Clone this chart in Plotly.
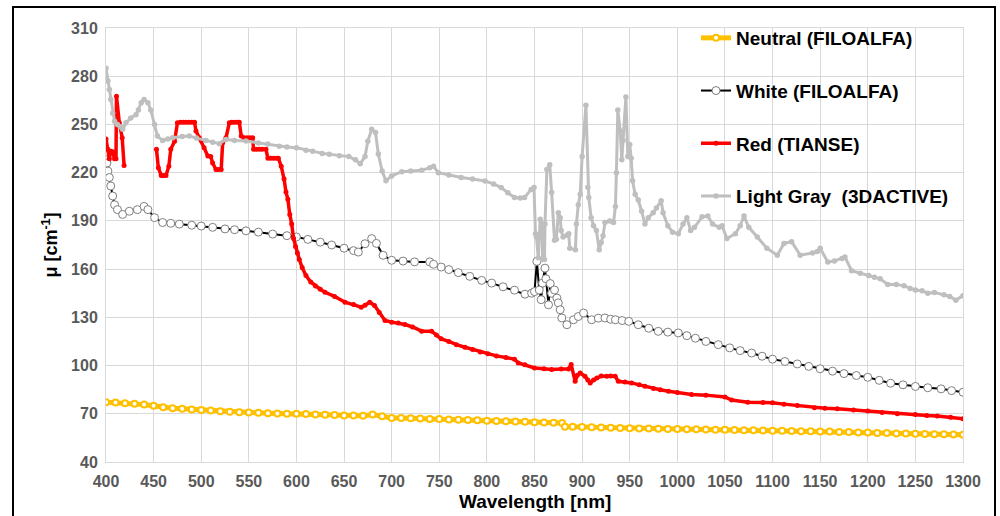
import plotly.graph_objects as go

# ---------------- data ----------------
wl_neutral = [400, 410, 420, 430, 440, 450, 460, 470, 480, 490, 500, 510, 520, 530, 540, 550,
              560, 570, 580, 590, 600, 610, 620, 630, 640, 650, 660, 670, 680, 690, 700, 710,
              720, 730, 740, 750, 760, 770, 780, 790, 800, 810, 820, 830, 840, 850, 860, 870,
              879, 882, 890, 900, 910, 920, 930, 940, 950, 960, 970, 980, 990, 1000, 1010, 1020,
              1030, 1040, 1050, 1060, 1070, 1080, 1090, 1100, 1110, 1120, 1130, 1140, 1150, 1160,
              1170, 1180, 1190, 1200, 1210, 1220, 1230, 1240, 1250, 1260, 1270, 1280, 1290, 1300]
mu_neutral = [77.2, 77.0, 76.6, 76.2, 75.7, 75.0, 74.0, 73.5, 73.1, 72.7, 72.3, 72.0, 71.6, 71.3, 71.0, 70.8,
              70.6, 70.4, 70.2, 70.0, 70.0, 69.8, 69.6, 69.4, 69.2, 69.0, 68.9, 68.7, 69.5, 68.5, 67.4, 67.3,
              67.2, 67.0, 66.8, 66.7, 66.5, 66.3, 66.1, 65.9, 65.7, 65.5, 65.4, 65.2, 65.0, 64.8, 64.6, 64.4,
              64.3, 62.0, 61.9, 61.8, 61.6, 61.5, 61.3, 61.1, 61.0, 60.9, 60.8, 60.7, 60.6, 60.5, 60.4, 60.3,
              60.2, 60.1, 60.0, 59.9, 59.8, 59.7, 59.6, 59.5, 59.4, 59.3, 59.2, 59.1, 59.0, 58.9,
              58.7, 58.6, 58.4, 58.3, 58.1, 58.0, 57.8, 57.7, 57.5, 57.4, 57.3, 57.2, 57.1, 57.0]

wl_white = [400, 401, 402, 403.5, 405, 407, 409, 412, 417.5, 424.5, 433, 440, 444, 451, 459.5, 468,
            477, 490, 500, 512, 525, 535, 547, 560, 575, 590, 600, 612, 625, 637, 650, 660,
            665, 672, 679, 684, 691, 700, 712, 724, 740, 744, 752, 760, 770, 782, 794.5, 805,
            817, 829, 840, 847, 850, 852.5, 855, 857, 858.4, 861, 862, 864.7, 866.5, 868, 871,
            873.5, 875, 877, 878.7, 884, 891, 896, 901.5, 910, 917, 924, 930, 935, 942, 949,
            959, 970, 980, 990, 1001, 1010, 1019, 1030, 1043, 1055, 1066, 1078, 1089, 1100,
            1113, 1126, 1138, 1150, 1163, 1175, 1188, 1200, 1212, 1224, 1237, 1250, 1263,
            1277, 1288, 1300]
mu_white = [228, 226, 221, 217, 211.7, 205.5, 200, 197, 194, 196, 197, 199, 197, 192, 189, 188.5,
            188, 187.3, 186.8, 186, 185, 184.5, 183.8, 183, 181.8, 180.8, 180, 178.5, 176.8, 175, 173, 171.5,
            170.6, 175.8, 179, 176, 168.6, 165.5, 165, 164.5, 164.5, 163, 161.3, 159.7, 157.8, 155.5, 153, 151.3,
            149, 146.9, 144.4, 145, 146, 164.8, 147, 141, 151.3, 160.6, 154, 137.8, 151, 145, 147,
            142, 139, 134.7, 129.6, 125.4, 128.5, 130.5, 132.7, 128.5, 129.5, 129.6, 128.8, 128.5, 128, 127.5,
            125.4, 123.2, 121.3, 120.8, 120.3, 118.6, 117, 115, 113, 111, 109.3, 107.8, 105.8, 104,
            102.5, 101, 99.5, 98, 96.5, 95, 93.8, 92.7, 90.8, 89, 88, 87, 86.2,
            85.5, 84.4, 83.4]

wl_red = [400, 402, 403.5, 405, 407, 409, 410.5, 411, 414, 417, 419, 436,
          453, 455, 458, 460, 463, 466, 468, 472, 475, 478, 481, 484, 487, 490, 493, 494.5,
          498, 500, 503, 507, 510, 512, 515.5, 518, 521, 522.5, 526, 529.5, 532, 535, 538, 540,
          542, 545, 548, 551, 554, 555, 558, 561, 564, 568, 570, 573, 576, 579, 581, 584,
          587, 589, 591, 593, 595, 597, 599, 601, 603, 606, 610, 615, 620, 625, 630, 640,
          651, 660, 668, 672, 677, 682, 687, 693, 700, 707, 714, 722, 731.5, 742, 747, 752,
          760, 768, 777, 785, 793, 801, 810, 820, 829, 833, 840, 850, 860, 868, 878, 885.7,
          888.5, 892.7, 895, 898, 903, 906, 908.5, 912, 915.5, 920, 926, 930, 934.7, 938, 945,
          952, 960, 966, 975, 982, 990.7, 1000, 1015, 1030, 1050, 1057, 1074, 1090, 1100, 1112,
          1126, 1144, 1155, 1168, 1185, 1200, 1215, 1231, 1250, 1262, 1273, 1287, 1300]
mu_red = [241, 234.5, 228.7, 233.4, 233, 228.7, 228.7, 267.6, 251, 241.7, 224.5, None,
          234.5, 223, 218.3, 218.3, 218.3, 224, 234.5, 239.6, 251, 251.4, 251.4, 251.4, 251.4, 251.4, 251.4, 245.9,
          241.7, 240, 235.5, 230.3, 230, 226, 222, 222, 222, 238.6, 241.7, 251, 251.4, 251.4, 251.4, 251.4,
          242.8, 241.7, 241.7, 241.7, 241.7, 234.5, 234.5, 234.5, 234.5, 234.5, 229, 229, 229, 229, 229, 224,
          216, 208, 203.4, 194, 188, 179, 174, 170, 166, 161, 156, 152, 149.5, 147.5, 145.6, 143,
          139.4, 138, 136.3, 137.5, 139.4, 137.3, 133, 128, 127, 126.5, 125.5, 124, 121.4, 121.4, 119, 116.6,
          115, 113, 111.4, 110, 108.5, 107.3, 106, 105, 104, 101.6, 100.5, 98.5, 98, 97.5, 97.8, 97.9,
          100.6, 90.2, 94, 95.4, 93.3, 91, 89.2, 91, 92.3, 93.5, 93.3, 93.5, 93.3, 90.2, 89.8,
          89.2, 88, 87.1, 85.8, 85, 84, 83.2, 82, 81.6, 80.5, 78.5, 77.2, 77, 76.8, 76,
          75.2, 73.7, 73.5, 73.1, 72.3, 71.7, 70.8, 70, 69.6, 69, 68.6, 67.8, 66.9]

wl_gray = [400, 402, 403.5, 405, 407, 409, 412, 415, 417.5, 421, 426, 431.5, 434, 437, 440, 444,
           447, 451, 454, 459.5, 465, 470, 480, 487.5, 495, 505, 512, 519, 526, 535, 547, 560,
           570, 582, 590, 600, 610, 617, 627, 634.5, 645, 655, 662, 667, 672, 675, 679, 683,
           686, 690, 694, 700, 710.6, 720, 731.5, 740, 744, 749, 760, 773, 785, 798, 807, 815,
           822, 829, 835, 839.5, 846.5, 849.5, 851, 852, 854, 856, 858, 858.4, 860.5, 861, 863,
           866, 868, 871, 873, 875, 877, 878, 880, 884, 886, 887, 893, 894, 896, 898, 900, 904,
           906, 907, 909.5, 912, 915, 918, 920, 922, 924, 929, 933, 935, 936, 937.5, 940, 941.7,
           943, 946, 948, 950, 951.5, 953, 955.7, 959, 962.5, 966, 969.5, 974.6, 978, 983, 985,
           990, 995, 1001, 1006, 1010, 1014, 1018, 1026, 1032, 1037, 1044, 1047, 1052, 1061, 1066,
           1070, 1075, 1084, 1094, 1105, 1112, 1120, 1129, 1142, 1147, 1150, 1158, 1165, 1173,
           1176, 1183, 1192, 1201, 1207, 1213, 1221, 1230, 1238, 1244.5, 1250, 1257, 1263, 1270,
           1280, 1286, 1292.5, 1300]
mu_gray = [285, 277, 271.7, 265.5, 257, 252, 250, 248.5, 247, 251, 254, 256, 259, 263.5, 265.5, 263.5,
           259, 250, 242.8, 240, 241, 241.7, 242.5, 242.8, 241.5, 240, 239, 238, 240.7, 240, 239.7, 238.5,
           237.8, 236.5, 236, 235.5, 234, 233.4, 232, 231.4, 230.5, 230, 228, 225.5, 230, 239.6, 247, 245,
           231.6, 221, 215, 218, 220.6, 221, 221.5, 223, 224, 220, 218.5, 217, 216, 214.8, 213, 210.7,
           207.5, 204.5, 204.2, 204.5, 209.6, 210.7, 182, 180, 167, 191, 188, 166, 166, 188, 222,
           225, 207.6, 178, 178.6, 195, 192, 184, 180, 181, 182, 173, 172, 188, 200, 206.5, 230, 262,
           211, 204.5, 192, 187, 184, 172, 176.5, 180.7, 189, 190, 189, 199, 220, 259, 246, 228,
           240, 267, 230, 237.6, 229, 215, 206.5, 203, 196, 188, 192, 195, 198, 202.5, 195,
           187, 183, 182, 188, 192, 184, 186, 192.5, 193, 188, 186, 187, 179, 182, 187,
           193, 186, 180, 173, 168.7, 176, 177, 168.7, 170, 171, 173, 164.5, 165, 166.6,
           167.6, 159, 157.5, 156, 155, 154, 150.5, 150.5, 149.6, 148, 147, 146.5, 145, 145.5,
           144, 143, 140.7, 143.5]

series_names = ["Neutral (FILOALFA)", "White (FILOALFA)", "Red (TIANSE)",
                "Light Gray\u00a0 (3DACTIVE)"]
x_ticks = [400, 450, 500, 550, 600, 650, 700, 750, 800, 850, 900, 950, 1000,
           1050, 1100, 1150, 1200, 1250, 1300]
y_ticks = [40, 70, 100, 130, 160, 190, 220, 250, 280, 310]
x_title = "Wavelength [nm]"
y_title = "μ [cm<sup>-1</sup>]"

# ---------------- figure ----------------
fig = go.Figure()

fig.add_trace(go.Scatter(
    x=wl_neutral, y=mu_neutral, name=series_names[0], mode="lines+markers",
    legendgroup="g1",
    line=dict(color="#FFC000", width=5),
    marker=dict(symbol="circle", size=6, color="white",
                line=dict(color="#FFC000", width=2))))

fig.add_trace(go.Scatter(
    x=wl_white, y=mu_white, name=series_names[1], mode="lines+markers",
    legendgroup="g2",
    line=dict(color="black", width=2),
    marker=dict(symbol="circle", size=8, color="white",
                line=dict(color="#7F7F7F", width=1))))

fig.add_trace(go.Scatter(
    x=wl_red, y=mu_red, name=series_names[2], mode="lines+markers",
    legendgroup="g3", connectgaps=False,
    line=dict(color="#FF0000", width=3.5),
    marker=dict(symbol="circle", size=5, color="#FF0000")))

fig.add_trace(go.Scatter(
    x=wl_gray, y=mu_gray, name=series_names[3], mode="lines+markers",
    legendgroup="g4",
    line=dict(color="#BFBFBF", width=3),
    marker=dict(symbol="circle", size=5.5, color="#BFBFBF")))

# pixel -> paper helpers (layout geometry only)
L, R, T, B = 106, 37, 28, 54
pw, ph = 1000 - L - R, 516 - T - B
def px_x(v):
    return (v - L) / pw
def px_y(v):
    return (516 - B - v) / ph

# outer frame around the whole chart
fig.add_shape(type="rect", xref="paper", yref="paper",
              x0=px_x(13), x1=px_x(995), y0=px_y(530), y1=px_y(7),
              line=dict(color="black", width=2), fillcolor="rgba(0,0,0,0)", layer="above")

FONT = "Arial, Liberation Sans, sans-serif"
tick_font = dict(family=FONT, size=16, color="#595959", weight="bold")
title_font = dict(family=FONT, size=18, color="black", weight="bold")

fig.add_annotation(text=x_title, xref="paper", yref="paper",
                   x=0.5, y=px_y(501), xanchor="center", yanchor="middle",
                   showarrow=False,
                   font=dict(family=FONT, size=19, color="black", weight="bold"))

fig.update_layout(
    width=1000, height=516,
    margin=dict(l=L, r=R, t=T, b=B, autoexpand=False),
    paper_bgcolor="white", plot_bgcolor="white",
    showlegend=True,
    legend=dict(x=px_x(696), y=px_y(19), xanchor="left", yanchor="top",
                bgcolor="rgba(0,0,0,0)", tracegroupgap=25,
                font=dict(family=FONT, size=19, color="black", weight="bold")),
    xaxis=dict(range=[400, 1300], tickvals=x_ticks, ticktext=[str(v) for v in x_ticks],
               showgrid=True, gridcolor="#D9D9D9", gridwidth=1,
               showline=True, linecolor="#D9D9D9", mirror=True, zeroline=False,
               ticks="", tickfont=tick_font, ticklabelstandoff=5),
    yaxis=dict(range=[40, 310], tickvals=y_ticks, ticktext=[str(v) for v in y_ticks],
               showgrid=True, gridcolor="#D9D9D9", gridwidth=1,
               showline=True, linecolor="#D9D9D9", mirror=True, zeroline=False,
               ticks="", tickfont=tick_font, ticklabelstandoff=4,
               title=dict(text=y_title, font=title_font, standoff=8)),
)

fig.write_html("out.html",
               config={"displayModeBar": False},
               post_script="document.body.style.margin='0';document.body.style.overflow='hidden';")
